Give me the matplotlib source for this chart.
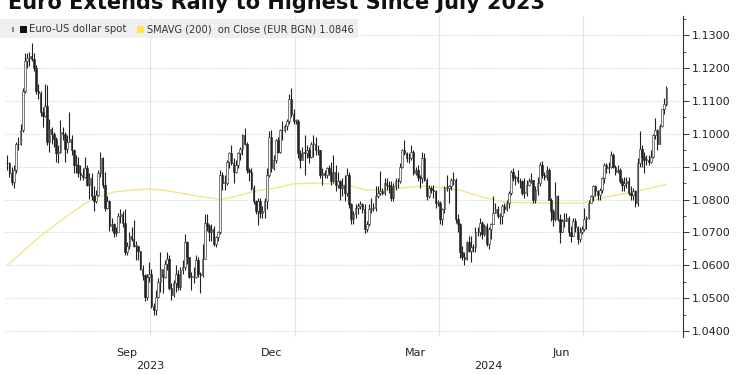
import matplotlib
matplotlib.use("Agg")
import matplotlib.pyplot as plt
from matplotlib.patches import Rectangle
from matplotlib.transforms import blended_transform_factory
import numpy as np
import pandas as pd

# EUR/USD daily bars, 3 Jul 2023 .. 21 Aug 2024 (business days)
start_date = "2023-07-03"
first_open = 1.0910

closes = [
    # Jul 2023
    1.0912, 1.0882, 1.0853, 1.0890, 1.0968, 1.0970, 1.1010, 1.1130, 1.1220, 1.1230, 1.1236,
    1.1228, 1.1200, 1.1130, 1.1125, 1.1065, 1.1055, 1.1085, 1.0975, 1.1015, 1.0998,
    # Aug 2023
    1.0985, 1.0940, 1.0945, 1.1005, 1.1000, 1.0955, 1.0975, 1.0985, 1.0950, 1.0905, 1.0905,
    1.0880, 1.0875, 1.0870, 1.0895, 1.0845, 1.0865, 1.0810, 1.0795, 1.0815, 1.0880, 1.0925, 1.0845,
    # Sep 2023
    1.0775, 1.0795, 1.0720, 1.0725, 1.0697, 1.0700, 1.0750, 1.0755, 1.0730, 1.0640, 1.0660,
    1.0690, 1.0680, 1.0660, 1.0660, 1.0645, 1.0590, 1.0570, 1.0505, 1.0565, 1.0575,
    # Oct 2023
    1.0475, 1.0465, 1.0505, 1.0550, 1.0590, 1.0565, 1.0605, 1.0620, 1.0530, 1.0510, 1.0545,
    1.0575, 1.0535, 1.0585, 1.0595, 1.0670, 1.0625, 1.0565, 1.0565, 1.0565, 1.0615, 1.0575,
    # Nov 2023
    1.0570, 1.0620, 1.0730, 1.0720, 1.0700, 1.0710, 1.0665, 1.0685, 1.0700, 1.0875, 1.0850,
    1.0850, 1.0915, 1.0940, 1.0910, 1.0885, 1.0905, 1.0940, 1.0955, 1.0995, 1.0970, 1.0890,
    # Dec 2023
    1.0885, 1.0835, 1.0795, 1.0765, 1.0795, 1.0760, 1.0765, 1.0795, 1.0875, 1.0990, 1.0895,
    1.0920, 1.0980, 1.0945, 1.1010, 1.1010, 1.1025, 1.1040, 1.1105, 1.1060, 1.1040,
    # Jan 2024
    1.1040, 1.0940, 1.0920, 1.0945, 1.0940, 1.0950, 1.0930, 1.0970, 1.0970, 1.0950, 1.0950,
    1.0875, 1.0880, 1.0875, 1.0895, 1.0885, 1.0855, 1.0885, 1.0845, 1.0855, 1.0835, 1.0845, 1.0820,
    # Feb 2024
    1.0875, 1.0785, 1.0740, 1.0755, 1.0775, 1.0780, 1.0785, 1.0770, 1.0710, 1.0725, 1.0770,
    1.0775, 1.0775, 1.0810, 1.0820, 1.0825, 1.0820, 1.0850, 1.0845, 1.0840, 1.0805,
    # Mar 2024
    1.0840, 1.0855, 1.0855, 1.0900, 1.0950, 1.0940, 1.0925, 1.0925, 1.0945, 1.0880, 1.0890,
    1.0870, 1.0865, 1.0925, 1.0860, 1.0810, 1.0835, 1.0830, 1.0825, 1.0790, 1.0790,
    # Apr 2024
    1.0740, 1.0770, 1.0835, 1.0835, 1.0840, 1.0860, 1.0860, 1.0740, 1.0725, 1.0640, 1.0625,
    1.0620, 1.0670, 1.0645, 1.0655, 1.0655, 1.0700, 1.0700, 1.0730, 1.0695, 1.0720, 1.0665,
    # May 2024
    1.0710, 1.0725, 1.0760, 1.0770, 1.0750, 1.0750, 1.0780, 1.0770, 1.0790, 1.0820, 1.0885,
    1.0865, 1.0870, 1.0855, 1.0855, 1.0820, 1.0820, 1.0845, 1.0855, 1.0860, 1.0800, 1.0830, 1.0850,
    # Jun 2024
    1.0905, 1.0875, 1.0870, 1.0890, 1.0800, 1.0765, 1.0740, 1.0810, 1.0740, 1.0700,
    1.0735, 1.0735, 1.0745, 1.0700, 1.0690, 1.0735, 1.0715, 1.0680, 1.0700, 1.0710,
    # Jul 2024
    1.0740, 1.0745, 1.0790, 1.0810, 1.0840, 1.0825, 1.0815, 1.0830, 1.0865, 1.0905, 1.0895,
    1.0900, 1.0935, 1.0900, 1.0885, 1.0890, 1.0855, 1.0845, 1.0850, 1.0855, 1.0820, 1.0815, 1.0825,
    # Aug 2024
    1.0790, 1.0910, 1.0955, 1.0930, 1.0920, 1.0920, 1.0915, 1.0930, 1.0995, 1.1010, 1.0970,
    1.1025, 1.1075, 1.1090, 1.1140,
]

highs = [
    # Jul 2023
    1.0935, 1.0915, 1.0900, 1.0905, 1.0975, 1.0990, 1.1030, 1.1140, 1.1245, 1.1245, 1.1250,
    1.1276, 1.1245, 1.1210, 1.1150, 1.1130, 1.1080, 1.1150, 1.1149, 1.1045, 1.1020,
    # Aug 2023
    1.1005, 1.0990, 1.0965, 1.1043, 1.1020, 1.1005, 1.0995, 1.1065, 1.0995, 1.0955, 1.0935,
    1.0930, 1.0905, 1.0895, 1.0930, 1.0905, 1.0880, 1.0880, 1.0840, 1.0830, 1.0890, 1.0945, 1.0930,
    # Sep 2023
    1.0885, 1.0810, 1.0800, 1.0745, 1.0730, 1.0715, 1.0760, 1.0770, 1.0765, 1.0770, 1.0670,
    1.0700, 1.0715, 1.0737, 1.0675, 1.0660, 1.0645, 1.0600, 1.0575, 1.0575, 1.0610,
    # Oct 2023
    1.0590, 1.0485, 1.0525, 1.0560, 1.0640, 1.0575, 1.0615, 1.0640, 1.0630, 1.0545, 1.0555,
    1.0600, 1.0585, 1.0595, 1.0615, 1.0695, 1.0675, 1.0625, 1.0580, 1.0595, 1.0630, 1.0625,
    # Nov 2023
    1.0580, 1.0665, 1.0757, 1.0755, 1.0725, 1.0725, 1.0720, 1.0690, 1.0705, 1.0890, 1.0885,
    1.0875, 1.0920, 1.0945, 1.0965, 1.0925, 1.0920, 1.0945, 1.0960, 1.1000, 1.1017, 1.0975,
    # Dec 2023
    1.0895, 1.0895, 1.0845, 1.0800, 1.0805, 1.0805, 1.0780, 1.0805, 1.0895, 1.1009, 1.1010,
    1.0935, 1.0985, 1.0990, 1.1015, 1.1040, 1.1030, 1.1045, 1.1120, 1.1139, 1.1075,
    # Jan 2024
    1.1045, 1.1045, 1.0950, 1.0960, 1.0995, 1.0965, 1.0960, 1.0975, 1.0995, 1.0990, 1.0965,
    1.0950, 1.0895, 1.0890, 1.0900, 1.0905, 1.0915, 1.0935, 1.0905, 1.0885, 1.0860, 1.0865, 1.0875,
    # Feb 2024
    1.0895, 1.0885, 1.0790, 1.0765, 1.0785, 1.0790, 1.0795, 1.0790, 1.0785, 1.0735, 1.0785,
    1.0805, 1.0790, 1.0840, 1.0840, 1.0888, 1.0835, 1.0865, 1.0865, 1.0855, 1.0855,
    # Mar 2024
    1.0850, 1.0865, 1.0865, 1.0910, 1.0955, 1.0981, 1.0945, 1.0940, 1.0965, 1.0950, 1.0900,
    1.0905, 1.0875, 1.0943, 1.0940, 1.0865, 1.0845, 1.0840, 1.0845, 1.0830, 1.0800,
    # Apr 2024
    1.0795, 1.0775, 1.0840, 1.0875, 1.0845, 1.0865, 1.0885, 1.0865, 1.0755, 1.0730, 1.0660,
    1.0640, 1.0675, 1.0690, 1.0690, 1.0665, 1.0715, 1.0715, 1.0745, 1.0735, 1.0725, 1.0730,
    # May 2024
    1.0715, 1.0730, 1.0812, 1.0790, 1.0780, 1.0760, 1.0785, 1.0790, 1.0800, 1.0825, 1.0890,
    1.0895, 1.0875, 1.0890, 1.0865, 1.0860, 1.0865, 1.0860, 1.0865, 1.0880, 1.0860, 1.0840, 1.0870,
    # Jun 2024
    1.0915, 1.0916, 1.0885, 1.0902, 1.0895, 1.0805, 1.0770, 1.0852, 1.0815, 1.0755,
    1.0740, 1.0760, 1.0760, 1.0750, 1.0720, 1.0745, 1.0745, 1.0720, 1.0715, 1.0720,
    # Jul 2024
    1.0775, 1.0750, 1.0800, 1.0815, 1.0845, 1.0845, 1.0830, 1.0835, 1.0870, 1.0910, 1.0910,
    1.0915, 1.0948, 1.0940, 1.0905, 1.0905, 1.0895, 1.0865, 1.0870, 1.0870, 1.0870, 1.0840, 1.0835,
    # Aug 2024
    1.0830, 1.0925, 1.1009, 1.0965, 1.0945, 1.0935, 1.0935, 1.0950, 1.1000, 1.1047, 1.1015,
    1.1030, 1.1075, 1.1110, 1.1145,
]

lows = [
    # Jul 2023
    1.0890, 1.0870, 1.0845, 1.0835, 1.0880, 1.0950, 1.0965, 1.1005, 1.1125, 1.1200, 1.1205,
    1.1220, 1.1190, 1.1120, 1.1105, 1.1055, 1.1020, 1.1050, 1.0965, 1.0945, 1.0970,
    # Aug 2023
    1.0960, 1.0915, 1.0910, 1.0940, 1.0980, 1.0915, 1.0940, 1.0975, 1.0935, 1.0880, 1.0880,
    1.0870, 1.0860, 1.0860, 1.0865, 1.0840, 1.0803, 1.0800, 1.0765, 1.0790, 1.0810, 1.0870, 1.0835,
    # Sep 2023
    1.0765, 1.0770, 1.0705, 1.0705, 1.0685, 1.0690, 1.0700, 1.0730, 1.0715, 1.0630, 1.0630,
    1.0650, 1.0675, 1.0655, 1.0615, 1.0615, 1.0585, 1.0555, 1.0490, 1.0495, 1.0550,
    # Oct 2023
    1.0470, 1.0448, 1.0450, 1.0500, 1.0520, 1.0515, 1.0560, 1.0585, 1.0525, 1.0495, 1.0505,
    1.0520, 1.0525, 1.0525, 1.0575, 1.0585, 1.0605, 1.0560, 1.0525, 1.0545, 1.0560, 1.0565,
    # Nov 2023
    1.0516, 1.0565, 1.0620, 1.0705, 1.0675, 1.0675, 1.0660, 1.0655, 1.0675, 1.0695, 1.0830,
    1.0830, 1.0845, 1.0895, 1.0905, 1.0850, 1.0880, 1.0895, 1.0920, 1.0935, 1.0965, 1.0880,
    # Dec 2023
    1.0855, 1.0830, 1.0785, 1.0755, 1.0724, 1.0745, 1.0745, 1.0745, 1.0770, 1.0870, 1.0885,
    1.0890, 1.0910, 1.0940, 1.0940, 1.0980, 1.1005, 1.1010, 1.1030, 1.1050, 1.1030,
    # Jan 2024
    1.1030, 1.0925, 1.0895, 1.0925, 1.0875, 1.0925, 1.0910, 1.0925, 1.0930, 1.0935, 1.0935,
    1.0865, 1.0845, 1.0865, 1.0865, 1.0875, 1.0845, 1.0850, 1.0825, 1.0835, 1.0800, 1.0810, 1.0795,
    # Feb 2024
    1.0810, 1.0775, 1.0725, 1.0725, 1.0745, 1.0755, 1.0770, 1.0760, 1.0697, 1.0700, 1.0720,
    1.0760, 1.0765, 1.0765, 1.0805, 1.0815, 1.0815, 1.0815, 1.0830, 1.0820, 1.0795,
    # Mar 2024
    1.0795, 1.0830, 1.0835, 1.0850, 1.0895, 1.0935, 1.0915, 1.0910, 1.0920, 1.0875, 1.0875,
    1.0855, 1.0835, 1.0850, 1.0855, 1.0800, 1.0805, 1.0820, 1.0805, 1.0775, 1.0780,
    # Apr 2024
    1.0725, 1.0724, 1.0760, 1.0825, 1.0790, 1.0830, 1.0845, 1.0730, 1.0700, 1.0622, 1.0615,
    1.0601, 1.0615, 1.0640, 1.0610, 1.0640, 1.0640, 1.0690, 1.0690, 1.0680, 1.0690, 1.0660,
    # May 2024
    1.0650, 1.0680, 1.0725, 1.0760, 1.0745, 1.0725, 1.0725, 1.0760, 1.0765, 1.0775, 1.0815,
    1.0855, 1.0845, 1.0850, 1.0835, 1.0815, 1.0805, 1.0810, 1.0840, 1.0850, 1.0790, 1.0790, 1.0815,
    # Jun 2024
    1.0840, 1.0865, 1.0860, 1.0860, 1.0800, 1.0735, 1.0720, 1.0735, 1.0735, 1.0668,
    1.0700, 1.0715, 1.0735, 1.0690, 1.0670, 1.0690, 1.0700, 1.0665, 1.0670, 1.0695,
    # Jul 2024
    1.0705, 1.0710, 1.0740, 1.0790, 1.0795, 1.0810, 1.0800, 1.0800, 1.0820, 1.0850, 1.0880,
    1.0880, 1.0895, 1.0895, 1.0875, 1.0880, 1.0850, 1.0825, 1.0825, 1.0835, 1.0815, 1.0800, 1.0800,
    # Aug 2024
    1.0777, 1.0780, 1.0900, 1.0900, 1.0880, 1.0905, 1.0905, 1.0910, 1.0925, 1.0985, 1.0950,
    1.0970, 1.1020, 1.1060, 1.1085,
]

# 200-day moving average at a few bar positions
sma_idx = [0, 15, 27, 36, 42, 48, 57, 64, 73, 88, 97, 103, 112, 121, 129, 141, 153,
           162, 169, 182, 188, 202, 214, 224, 242, 259, 270, 282, 297]
sma_val = [1.0600, 1.0689, 1.0750, 1.0792, 1.0810, 1.0823, 1.0829, 1.0832, 1.0826,
           1.0808, 1.0800, 1.0810, 1.0826, 1.0835, 1.0848, 1.0850, 1.0844, 1.0828,
           1.0829, 1.0838, 1.0841, 1.0832, 1.0808, 1.0792, 1.0789, 1.0789, 1.0808,
           1.0823, 1.0846]

title = "Euro Extends Rally to Highest Since July 2023"
series_label = "Euro-US dollar spot"
sma_label = "SMAVG (200)  on Close (EUR BGN) 1.0846"
month_labels = ["Sep", "Dec", "Mar", "Jun"]
year_labels = ["2023", "2024"]
yticks = [1.04, 1.05, 1.06, 1.07, 1.08, 1.09, 1.10, 1.11, 1.12, 1.13]

closes = np.array(closes)
highs = np.array(highs)
lows = np.array(lows)
opens = np.concatenate([[first_open], closes[:-1]])
dates = pd.bdate_range(start_date, periods=len(closes))
x = np.arange(len(closes))

W, H = 750, 375
fig = plt.figure(figsize=(7.5, 3.75), dpi=100)
ax = fig.add_axes([5 / W, 1 - 337 / H, (683 - 5) / W, (337 - 16) / H])
ax.set_xlim(-1, 304.5)
ax.set_ylim(1.0382, 1.1358)

# grid
for v in yticks:
    ax.axhline(v, color="#c4c4c4", lw=0.6, ls=(0, (1, 1.5)), zorder=0)
quarter_starts = [i for i in range(1, len(dates))
                  if dates[i].month != dates[i - 1].month and dates[i].month in (1, 4, 7, 10)]
for i in quarter_starts:
    ax.axvline(i - 0.5, color="#e4e4e4", lw=0.8, zorder=0)

# sma line
ax.plot(sma_idx, sma_val, color="#f2e68c", lw=1.0, zorder=1)

# candles
up = closes >= opens
ax.vlines(x, lows, highs, color="#222222", lw=0.8, zorder=2)
body_lo = np.minimum(opens, closes)
body_h = np.maximum(np.abs(closes - opens), 0.0002)
ax.bar(x[up], body_h[up], bottom=body_lo[up], width=0.7, color="#f4f4f4",
       edgecolor="#222222", lw=0.4, zorder=3)
ax.bar(x[~up], body_h[~up], bottom=body_lo[~up], width=0.7, color="#222222",
       edgecolor="#222222", lw=0.4, zorder=3)

# axes styling
for s in ["top", "left", "bottom"]:
    ax.spines[s].set_visible(False)
ax.spines["right"].set_color("#333333")
ax.spines["right"].set_linewidth(0.8)
ax.yaxis.tick_right()
ax.set_yticks(yticks)
ax.set_yticklabels([f"{v:.4f}" for v in yticks])
ax.set_yticks(np.arange(1.0400, 1.1351, 0.005), minor=True)
ax.tick_params(axis="y", which="major", length=4, width=0.7, color="#333333",
               labelsize=8, labelcolor="#222222", pad=2)
ax.tick_params(axis="y", which="minor", length=2, width=0.6, color="#333333")

# month labels at the middle of Sep, Dec, Mar, Jun
month_starts = [0] + [i for i in range(1, len(dates)) if dates[i].month != dates[i - 1].month]
centers = []
for k, i in enumerate(month_starts):
    if dates[i].month in (9, 12, 3, 6):
        centers.append((i - 0.5 + month_starts[k + 1] - 0.5) / 2)
ax.set_xticks(centers)
ax.set_xticklabels(month_labels)
ax.tick_params(axis="x", length=0, labelsize=8, labelcolor="#222222", pad=8)

# year labels
jan = [i for i in quarter_starts if dates[i].month == 1][0] - 0.5
trans = blended_transform_factory(ax.transData, ax.transAxes)
x0, x1 = ax.get_xlim()
ax.text((x0 + jan) / 2, -29 / 321, year_labels[0], transform=trans, ha="center",
        va="center", fontsize=8, color="#222222")
ax.text((jan + x1) / 2, -29 / 321, year_labels[1], transform=trans, ha="center",
        va="center", fontsize=8, color="#222222")

# title (cut off at top like the source)
fig.text(8 / W, 1 - 9 / H, title, fontsize=15, fontweight="bold", color="#111111",
         va="baseline", ha="left")

# legend strip
fig.add_artist(Rectangle((0, 1 - 38 / H), 358 / W, 19 / H, transform=fig.transFigure,
                         facecolor="#efefef", edgecolor="none", zorder=5))
fig.add_artist(Rectangle((12 / W, 1 - 32 / H), 2 / W, 5 / H, transform=fig.transFigure,
                         facecolor="#888888", edgecolor="none", zorder=6))
fig.add_artist(Rectangle((20 / W, 1 - 33 / H), 7 / W, 7 / H, transform=fig.transFigure,
                         facecolor="#111111", edgecolor="none", zorder=6))
fig.add_artist(Rectangle((137 / W, 1 - 33 / H), 7 / W, 7 / H, transform=fig.transFigure,
                         facecolor="#ffe74a", edgecolor="none", zorder=6))
fig.text(29 / W, 1 - 29 / H, series_label, fontsize=7.3, color="#333333", va="center",
         ha="left", zorder=7)
fig.text(147 / W, 1 - 29 / H, sma_label, fontsize=7.1, color="#333333", va="center",
         ha="left", zorder=7)

fig.savefig("out.png", dpi=100)
